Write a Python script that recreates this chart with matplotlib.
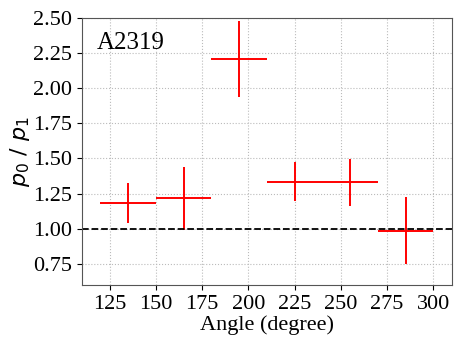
import matplotlib
matplotlib.use("Agg")
import matplotlib.pyplot as plt
import numpy as np

# angle bins (degree) and the p0/p1 ratio in each
angle = [135, 165, 195, 225, 255, 285]
angle_err = [15, 15, 15, 15, 15, 15]
ratio = [1.182, 1.217, 2.206, 1.336, 1.331, 0.985]
ratio_err = [0.14, 0.225, 0.27, 0.14, 0.166, 0.238]

plt.rcParams['font.family'] = ['Liberation Serif', 'DejaVu Serif']
plt.rcParams['mathtext.fontset'] = 'dejavusans'

fig, ax = plt.subplots(figsize=(4.63, 3.47), dpi=100)
fig.subplots_adjust(left=0.177, right=0.976, top=0.948, bottom=0.179)

ax.errorbar(angle, ratio, xerr=angle_err, yerr=ratio_err,
            fmt='none', ecolor='red', elinewidth=1.4)
ax.axhline(1.0, color='black', linestyle='--', linewidth=1.3)

ax.set_xlim(110, 310)
ax.set_ylim(0.6, 2.5)
ax.set_xticks(np.arange(125, 301, 25))
ax.set_yticks(np.arange(0.75, 2.51, 0.25))
ax.yaxis.set_major_formatter(matplotlib.ticker.FormatStrFormatter('%.2f'))
ax.tick_params(labelsize=16)
ax.grid(True, linestyle=':', color='#bbbbbb', linewidth=0.8)
ax.set_axisbelow(True)
for s in ax.spines.values():
    s.set_color('#555555')

ax.text(0.04, 0.905, 'A2319', transform=ax.transAxes, fontsize=18,
        va='center', ha='left')
ax.set_xlabel('Angle (degree)', fontsize=16, labelpad=1)
ax.set_ylabel(r'$p_0\ /\ p_1$', fontsize=16, labelpad=1)

fig.savefig('out.png')
